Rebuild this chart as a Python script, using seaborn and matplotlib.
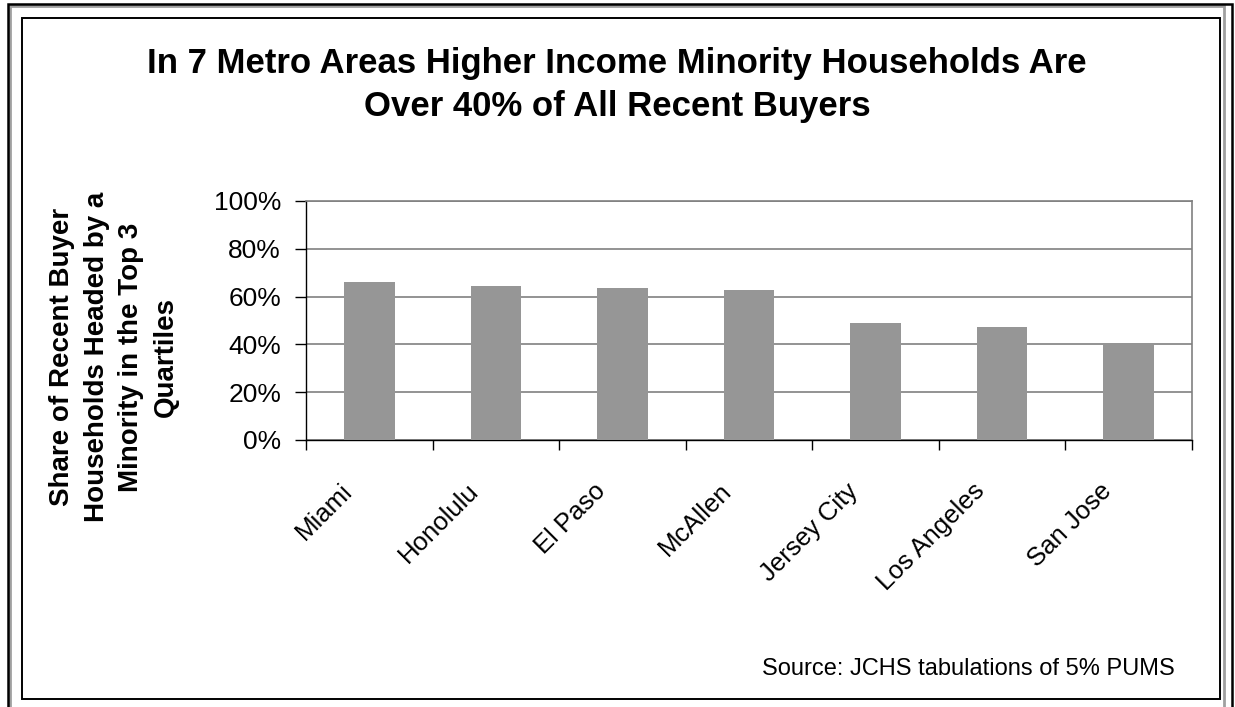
import matplotlib
matplotlib.use("Agg")
import matplotlib.pyplot as plt
import matplotlib.transforms as mtransforms
from matplotlib.patches import Rectangle
from matplotlib.ticker import PercentFormatter, FixedLocator
import seaborn as sns
import pandas as pd

metros = ["Miami", "Honolulu", "El Paso", "McAllen", "Jersey City", "Los Angeles", "San Jose"]
share = [0.660, 0.643, 0.635, 0.628, 0.488, 0.473, 0.396]
y_ticks = [0.0, 0.2, 0.4, 0.6, 0.8, 1.0]

title = "In 7 Metro Areas Higher Income Minority Households Are\nOver 40% of All Recent Buyers"
y_label = "Share of Recent Buyer\nHouseholds Headed by a\nMinority in the Top 3\nQuartiles"
source = "Source: JCHS tabulations of 5% PUMS"

sns.set_theme(style="white")
plt.rcParams["font.family"] = ["Liberation Sans", "DejaVu Sans"]
plt.rcParams["text.color"] = "black"

W, H = 1235, 707
fig = plt.figure(figsize=(W / 100, H / 100), dpi=100)
fig.patch.set_facecolor("white")

# double frame around the chart
fig.add_artist(Rectangle((10 / W, -0.05), 1224 / W - 10 / W, 1.05 - 6 / H,
                         transform=fig.transFigure, fill=False, edgecolor="#a0a0a0", lw=2.0))
fig.add_artist(Rectangle((8 / W, -0.05), 1224 / W, 1.05 - 4 / H,
                         transform=fig.transFigure, fill=False, edgecolor="black", lw=1.8))
fig.add_artist(Rectangle((22 / W, 1 - 699 / H), (1220 - 22) / W, (699 - 18) / H,
                         transform=fig.transFigure, fill=False, edgecolor="black", lw=1.4))

ax = fig.add_axes([306 / W, 1 - 440 / H, (1192 - 306) / W, (440 - 201) / H])
df = pd.DataFrame({"metro": metros, "share": share})
sns.barplot(data=df, x="metro", y="share", color="#969696", width=0.4,
            saturation=1, ax=ax, zorder=3, edgecolor="none")

ax.set_ylim(0, 1)
ax.set_xlim(-0.5, len(metros) - 0.5)
ax.yaxis.set_major_locator(FixedLocator(y_ticks))
ax.yaxis.set_major_formatter(PercentFormatter(1.0, decimals=0))
ax.grid(axis="y", color="#808080", lw=1.2, zorder=0)
ax.set_axisbelow(True)

for side in ["top", "right"]:
    ax.spines[side].set_color("#808080")
    ax.spines[side].set_linewidth(1.2)
for side in ["left", "bottom"]:
    ax.spines[side].set_color("black")
    ax.spines[side].set_linewidth(1.0)

ax.tick_params(axis="y", which="major", length=8, width=1, color="black",
               direction="out", labelsize=19, labelcolor="black", pad=10, left=True)
ax.set_xticks(range(len(metros)))
ax.set_xticks([i - 0.5 for i in range(len(metros) + 1)], minor=True)
ax.tick_params(axis="x", which="minor", length=7, width=1, color="black",
               direction="out", bottom=True)
ax.tick_params(axis="x", which="major", length=0, labelsize=18.5, labelcolor="black", pad=34)
ax.set_xticklabels(metros, rotation=45, ha="right", va="center", rotation_mode="anchor")
offset = mtransforms.ScaledTranslation(-21 / 100, 0, fig.dpi_scale_trans)
for lbl in ax.get_xticklabels():
    lbl.set_transform(lbl.get_transform() + offset)

ax.set_xlabel("")
ax.set_ylabel("")

fig.text(617 / W, 1 - 85 / H, title, ha="center", va="center",
         fontsize=25, fontweight="bold", linespacing=1.4)
fig.text(114 / W, 1 - 357 / H, y_label, ha="center", va="center", rotation=90,
         fontsize=20, fontweight="bold", linespacing=1.42, multialignment="center")
fig.text(1175 / W, 1 - 669 / H, source, ha="right", va="center", fontsize=17)

fig.savefig("out.png", dpi=100, facecolor="white")
